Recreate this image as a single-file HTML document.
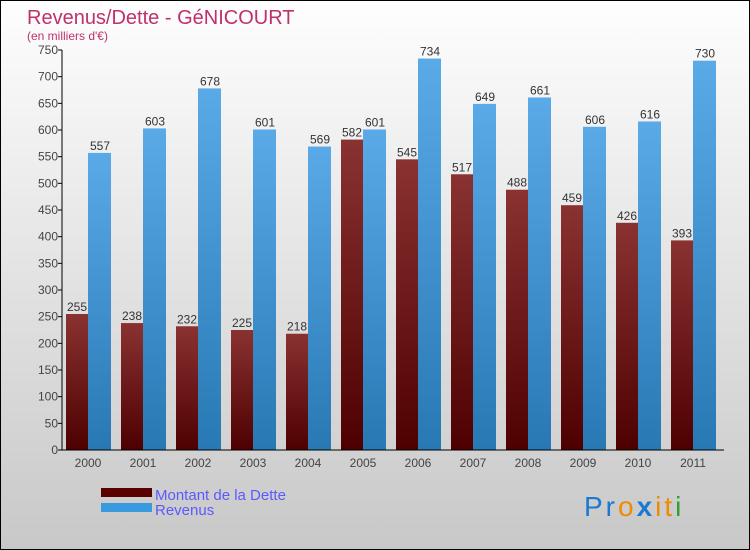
<!DOCTYPE html>
<html><head><meta charset="utf-8"><style>
body{margin:0}
#c{position:relative;width:748px;height:548px;border:1px solid #000;background:linear-gradient(#fefefe,#c8c8c8);font-family:"Liberation Sans",sans-serif;overflow:hidden}
</style></head><body>
<div id="c">
<svg id="s" width="748" height="548" xmlns="http://www.w3.org/2000/svg">
<defs>
<linearGradient id="gd" x1="0" y1="0" x2="0" y2="1"><stop offset="0" stop-color="#8a3232"/><stop offset="1" stop-color="#4e0000"/></linearGradient>
<linearGradient id="gr" x1="0" y1="0" x2="0" y2="1"><stop offset="0" stop-color="#5aaae8"/><stop offset="1" stop-color="#2878b4"/></linearGradient>
</defs>
<text x="26" y="23" font-size="20" fill="#c0306a">Revenus/Dette - GéNICOURT</text>
<text x="26" y="39" font-size="12" fill="#c0306a">(en milliers d'€)</text>
<g id="g"></g>
<rect x="100" y="487" width="51" height="9" fill="#5a0000"/>
<text x="154" y="499" font-size="15" fill="#5a5aff">Montant de la Dette</text>
<rect x="100" y="502" width="51" height="9" fill="#3a9ae0"/>
<text x="154" y="514" font-size="15" fill="#5a5aff">Revenus</text>
<text x="583" y="515" font-size="28" letter-spacing="3" font-family="Liberation Sans"><tspan fill="#1a7ad0">Pr</tspan><tspan fill="#f08a00">o</tspan><tspan fill="#1a7ad0" font-weight="bold">x</tspan><tspan fill="#f08a00">it</tspan><tspan fill="#30a030">i</tspan></text>
</svg>
</div>
<script>
const years=["2000","2001","2002","2003","2004","2005","2006","2007","2008","2009","2010","2011"];
const dette=[255,238,232,225,218,582,545,517,488,459,426,393];
const revenus=[557,603,678,601,569,601,734,649,661,606,616,730];
const yTicks=[0,50,100,150,200,250,300,350,400,450,500,550,600,650,700,750];
const NS="http://www.w3.org/2000/svg";
const g=document.getElementById('g');
const x0=61,x1=721,yb=449,yt=49,ymax=750;
const Y=v=>yb-(v/ymax)*(yb-yt);
const gw=(x1-x0)/years.length;
function el(t,a,txt){const e=document.createElementNS(NS,t);for(const k in a)e.setAttribute(k,a[k]);if(txt!==undefined)e.textContent=txt;g.appendChild(e);return e;}
yTicks.forEach(v=>{
 const t=el('text',{x:x0-4,y:Y(v)+4,'font-size':12,fill:'#444','text-anchor':'end'},v);
 
 
 const l=el('line',{x1:x0-4,x2:x0,y1:Y(v),y2:Y(v),stroke:'#000'});
 
 
});
years.forEach((yr,i)=>{
 const gx=x0+i*gw;
 const b1=el('rect',{x:gx+4,y:Y(dette[i]),width:22,height:yb-Y(dette[i]),fill:'url(#gd)'});
 
 
 const b2=el('rect',{x:gx+26,y:Y(revenus[i]),width:23,height:yb-Y(revenus[i]),fill:'url(#gr)'});
 
 
 const t1=el('text',{x:gx+15,y:Y(dette[i])-3,'font-size':12,fill:'#333','text-anchor':'middle'},dette[i]);
 
 
 const t2=el('text',{x:gx+38,y:Y(revenus[i])-3,'font-size':12,fill:'#333','text-anchor':'middle'},revenus[i]);
 
 
 const xl=el('text',{x:gx+26,y:466,'font-size':12,fill:'#444','text-anchor':'middle'},yr);
 
 
});
const ya=el('line',{x1:x0,x2:x0,y1:yt,y2:yb,stroke:'#000'});


const xa=el('line',{x1:x0-4,x2:x1+2,y1:yb,y2:yb,stroke:'#000'});


</script>
</body></html>
